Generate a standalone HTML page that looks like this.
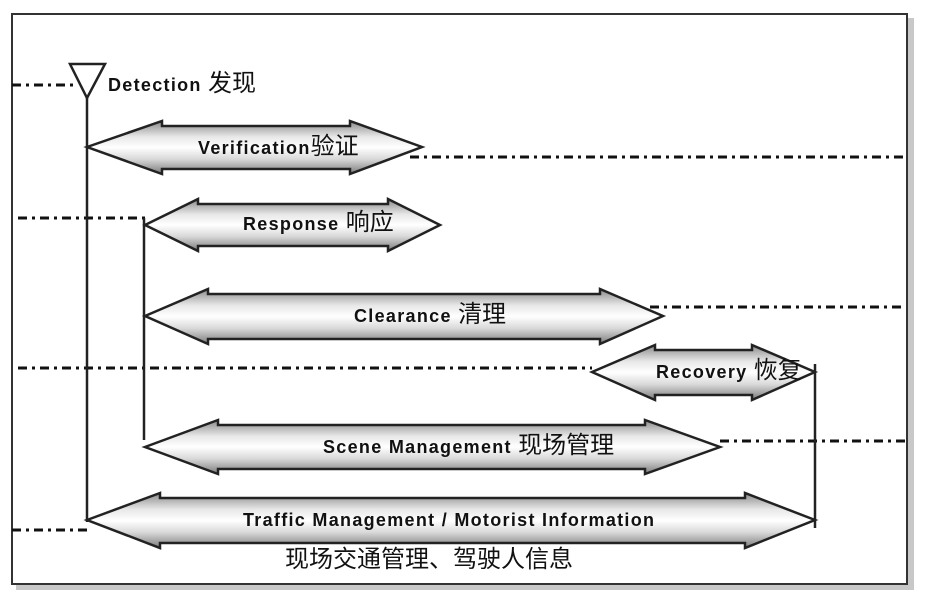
<!DOCTYPE html>
<html><head><meta charset="utf-8"><style>
html,body{margin:0;padding:0;background:#fff;}
svg{display:block}
</style></head><body>
<svg width="935" height="612" viewBox="0 0 935 612" xmlns="http://www.w3.org/2000/svg">
<defs>
<linearGradient id="g" x1="0" y1="0" x2="0" y2="1">
<stop offset="0" stop-color="#8a8a8a"/>
<stop offset="0.3" stop-color="#e8e8e8"/>
<stop offset="0.5" stop-color="#ffffff"/>
<stop offset="0.72" stop-color="#d8d8d8"/>
<stop offset="1" stop-color="#7a7a7a"/>
</linearGradient>
</defs>
<rect x="16" y="18" width="898" height="572" fill="#c8c8c8"/>
<rect x="12" y="14" width="895" height="570" fill="#fff" stroke="#333" stroke-width="2"/>
<g stroke="#111" stroke-width="3" fill="none" stroke-dasharray="9 5 3 5">
<line x1="12" y1="85" x2="75" y2="85"/>
<line x1="410" y1="157" x2="905" y2="157"/>
<line x1="18" y1="218" x2="145" y2="218"/>
<line x1="650" y1="307" x2="905" y2="307"/>
<line x1="18" y1="368" x2="592" y2="368"/>
<line x1="720" y1="441" x2="905" y2="441"/>
<line x1="12" y1="530" x2="87" y2="530"/>
</g>
<g stroke="#222" stroke-width="2.5" fill="none">
<line x1="87" y1="95" x2="87" y2="522"/>
<line x1="144" y1="218" x2="144" y2="440"/>
<line x1="815" y1="364" x2="815" y2="528"/>
</g>
<polygon points="70,64 105,64 87,98" fill="#fff" stroke="#222" stroke-width="2.5"/>
<g fill="url(#g)" stroke="#222" stroke-width="2.5">
<polygon points="87,147 162,121 162,126 350,126 350,121 422,147 350,174 350,169 162,169 162,174"/>
<polygon points="145,225 198,199 198,204 388,204 388,199 440,225 388,251 388,246 198,246 198,251"/>
<polygon points="145,316 208,289 208,294 600,294 600,289 663,316 600,344 600,339 208,339 208,344"/>
<polygon points="592,372 655,345 655,350 752,350 752,345 815,372 752,400 752,395 655,395 655,400"/>
<polygon points="145,447 218,420 218,425 645,425 645,420 720,447 645,474 645,469 218,469 218,474"/>
<polygon points="87,520 160,493 160,498 745,498 745,493 815,520 745,548 745,543 160,543 160,548"/>
</g>
<g font-family="'Liberation Sans','Noto Sans CJK SC',sans-serif" fill="#111">
<g font-weight="bold" font-size="18" letter-spacing="1.3">
<text x="108" y="91">Detection <tspan font-weight="normal" font-size="24" letter-spacing="0">发现</tspan></text>
<text x="198" y="154">Verification<tspan font-weight="normal" font-size="24" letter-spacing="0">验证</tspan></text>
<text x="243" y="230">Response <tspan font-weight="normal" font-size="24" letter-spacing="0">响应</tspan></text>
<text x="354" y="322">Clearance <tspan font-weight="normal" font-size="24" letter-spacing="0">清理</tspan></text>
<text x="656" y="378">Recovery <tspan font-weight="normal" font-size="24" letter-spacing="0">恢复</tspan></text>
<text x="323" y="453">Scene Management <tspan font-weight="normal" font-size="24" letter-spacing="0">现场管理</tspan></text>
<text x="243" y="526">Traffic Management / Motorist Information</text>
</g>
<text x="285" y="567" font-size="24">现场交通管理、驾驶人信息</text>
</g>
</svg>
</body></html>
